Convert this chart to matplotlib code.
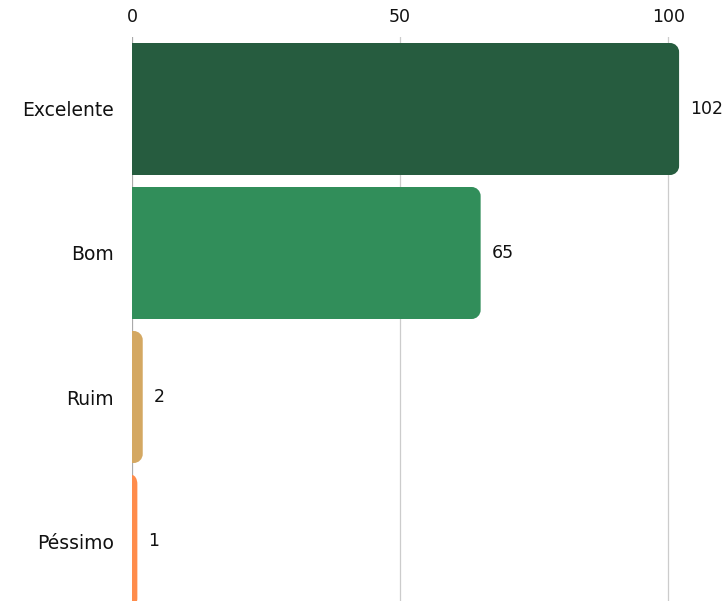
import numpy as np
import matplotlib
matplotlib.use("Agg")
import matplotlib.pyplot as plt
from matplotlib.path import Path
from matplotlib.patches import PathPatch

plt.rcParams['font.family'] = ['DejaVu Sans']

# Ratings and counts
categories = ["Excelente", "Bom", "Ruim", "Péssimo"]
counts = [102, 65, 2, 1]
colors = ["#265C3F", "#318E5A", "#D4A862", "#FF8C4B"]
ticks = [0, 50, 100]

W, H, DPI = 723, 601, 100
fig = plt.figure(figsize=(W / DPI, H / DPI), dpi=DPI)

# axes placement in pixels
left_px, right_px, top_px = 132, 722, 37
band_px = 144
ax_h_px = H - top_px
ax = fig.add_axes([left_px / W, 0, (right_px - left_px) / W, ax_h_px / H])

xmax = 110
ax.set_xlim(0, xmax)
ax.set_ylim(-0.5 + ax_h_px / band_px, -0.5)

y = np.arange(len(categories))
bars = ax.barh(y, counts, height=132 / band_px, color=colors, zorder=3)

# swap the plain rectangles for ones with rounded right corners
px_per_x = (right_px - left_px) / xmax
px_per_y = band_px
radius_px = 9
k = 0.5523
for rect in bars.patches:
    x0, y0 = rect.get_x(), rect.get_y()
    w, h = rect.get_width(), rect.get_height()
    rx = min(radius_px / px_per_x, w)
    ry = radius_px / px_per_y
    y1 = y0 + h
    verts = [
        (x0, y0), (x0 + w - rx, y0),
        (x0 + w - rx + k * rx, y0), (x0 + w, y0 + ry - k * ry), (x0 + w, y0 + ry),
        (x0 + w, y1 - ry),
        (x0 + w, y1 - ry + k * ry), (x0 + w - rx + k * rx, y1), (x0 + w - rx, y1),
        (x0, y1), (x0, y0),
    ]
    codes = [Path.MOVETO, Path.LINETO,
             Path.CURVE4, Path.CURVE4, Path.CURVE4,
             Path.LINETO,
             Path.CURVE4, Path.CURVE4, Path.CURVE4,
             Path.LINETO, Path.CLOSEPOLY]
    patch = PathPatch(Path(verts, codes), facecolor=rect.get_facecolor(),
                      edgecolor="none", zorder=3)
    rect.remove()
    ax.add_patch(patch)

fs = 12.5
for yi, v in zip(y, counts):
    ax.annotate(str(v), xy=(v, yi), xytext=(8, 0), textcoords="offset points",
                ha="left", va="center", fontsize=fs, color="#111111")

# grid and axes styling
for t in ticks:
    ax.axvline(t, color="#aaaaaa" if t == 0 else "#cccccc", lw=0.9, zorder=1)
ax.set_xticks(ticks)
ax.xaxis.tick_top()
ax.tick_params(axis="x", length=0, pad=8, labelsize=fs, labelcolor="#111111")
ax.set_yticks(y)
ax.set_yticklabels(categories)
ax.tick_params(axis="y", length=0, pad=13, labelsize=13.5, labelcolor="#111111")
for s in ax.spines.values():
    s.set_visible(False)

fig.savefig("out.png", dpi=DPI)
